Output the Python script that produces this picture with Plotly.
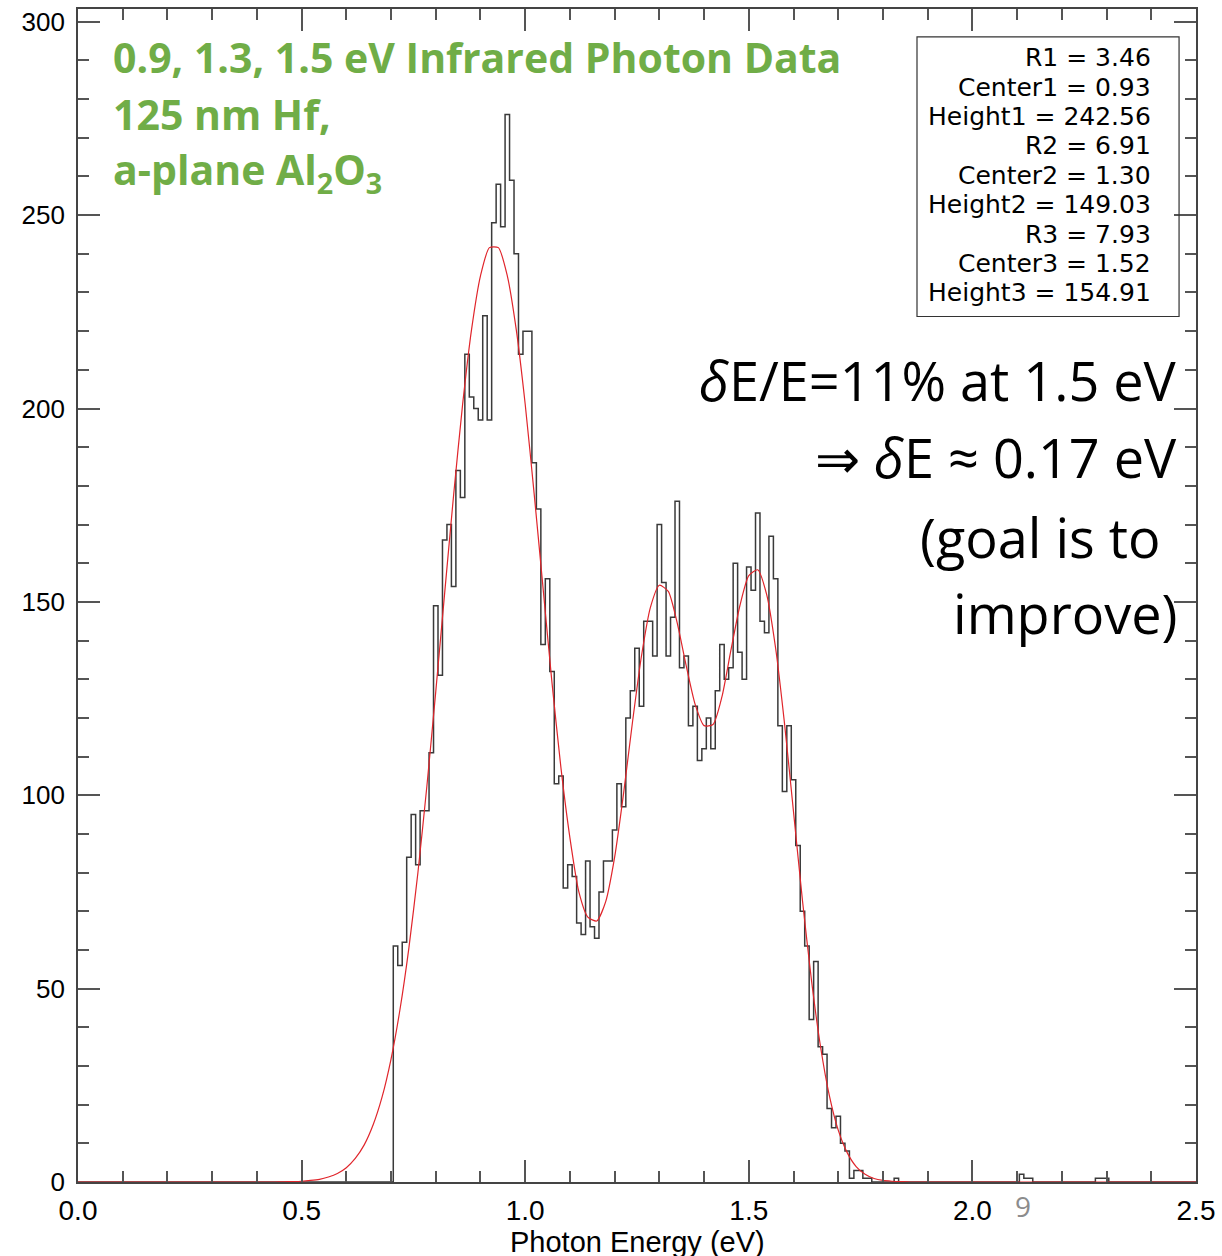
import plotly.graph_objects as go

# ---------------- data ----------------
# histogram: counts per 0.01 eV bin, first bin starts at 0.705 eV
hist_start = 0.705
hist_width = 0.01
hist_counts = [61, 56, 62, 84, 95, 82, 96, 96, 111, 149,
               131, 166, 170, 154, 184, 177, 214, 203, 200, 197,
               224, 197, 248, 258, 247, 276, 259, 240, 214, 220,
               220, 186, 174, 139, 156, 132, 103, 105, 76, 82,
               79, 67, 64, 83, 66, 63, 75, 83, 83, 91,
               103, 97, 120, 127, 138, 123, 145, 145, 136, 170,
               155, 136, 146, 176, 133, 136, 118, 123, 109, 112,
               120, 112, 127, 139, 130, 133, 160, 137, 130, 159,
               153, 173, 145, 142, 167, 156, 118, 101, 118, 104,
               87, 70, 61, 42, 57, 35, 33, 19, 14, 17,
               10, 8, 1, 3, 3, 1, 1]
# isolated counts in the tail (bin start energy, count)
tail_bins = [1.825, 2.105, 2.115, 2.125, 2.275, 2.285, 2.295]
tail_counts = [1, 2, 1, 1, 1, 1, 1]

# three-peak fit curve (red)
fit_e = [0.0, 0.40, 0.44, 0.46, 0.48, 0.50, 0.52, 0.54, 0.56, 0.58, 0.60,
         0.62, 0.64, 0.66, 0.68, 0.70, 0.72, 0.74, 0.76, 0.78, 0.80,
         0.82, 0.84, 0.86, 0.88, 0.90, 0.92, 0.94, 0.96, 0.98, 1.00,
         1.02, 1.04, 1.06, 1.08, 1.10, 1.12, 1.14, 1.16, 1.18, 1.20,
         1.22, 1.24, 1.26, 1.28, 1.30, 1.32, 1.34, 1.36, 1.38, 1.40,
         1.42, 1.44, 1.46, 1.48, 1.50, 1.52, 1.54, 1.56, 1.58, 1.60,
         1.62, 1.64, 1.66, 1.68, 1.70, 1.72, 1.74, 1.76, 1.78, 1.80,
         1.82, 1.84, 1.86, 1.90, 2.5]
fit_v = [0.0, 0.0, 0.0, 0.05, 0.1, 0.2, 0.4, 0.7, 1.3, 2.2, 3.7,
         6.1, 9.6, 14.8, 22.0, 31.8, 44.6, 60.6, 79.9, 102.2, 126.8,
         152.4, 177.7, 201.0, 220.4, 234.3, 241.6, 241.6, 234.3, 220.4, 201.1,
         178.0, 153.5, 129.0, 107.0, 89.0, 75.0, 68.5, 67.5, 72.5, 84.0,
         100.5, 119.0, 136.0, 148.6, 154.3, 152.7, 144.5, 133.5, 123.5, 118.0,
         118.3, 125.5, 137.5, 149.0, 156.8, 158.3, 151.9, 138.0, 118.4, 95.7,
         72.8, 52.3, 35.3, 22.4, 13.4, 7.6, 4.0, 2.0, 0.9, 0.4,
         0.2, 0.1, 0.0, 0.0, 0.0]

fit_labels = ["R1 = 3.46", "Center1 = 0.93", "Height1 = 242.56",
              "R2 = 6.91", "Center2 = 1.30", "Height2 = 149.03",
              "R3 = 7.93", "Center3 = 1.52", "Height3 = 154.91"]

green_lines = ["0.9, 1.3, 1.5 eV Infrared Photon Data",
               "125 nm Hf,",
               "a-plane Al<sub>2</sub>O<sub>3</sub>"]
black_lines = ["<i>δ</i>E/E=11% at 1.5 eV",
               "⇒ <i>δ</i>E ≈ 0.17 eV",
               "(goal is to",
               "improve)"]

# ---------------- build histogram step path ----------------
edges = [0.0]
levels = [0]
pos = hist_start
for c in hist_counts:
    edges.append(pos)
    levels.append(c)
    pos = round(pos + hist_width, 4)
edges.append(pos)
levels.append(0)
for e, c in zip(tail_bins, tail_counts):
    if edges[-1] < e:
        edges.append(e)
        levels.append(c)
    else:
        levels[-1] = c
    edges.append(round(e + hist_width, 4))
    levels.append(0)
edges.append(2.5)
levels.append(0)

# ---------------- geometry helpers (pixel -> paper) ----------------
W, H = 1222, 1256
L, R, T, B = 78, 22, 7, 74
pw, ph = W - L - R, H - T - B


def px(x):
    return (x - L) / pw


def py(y):
    return (H - B - y) / ph


fig = go.Figure()
fig.add_trace(go.Scatter(x=edges, y=levels, mode="lines", line_shape="hv",
                         line=dict(color="#3a3a3a", width=1.5),
                         hoverinfo="skip", showlegend=False))
fig.add_trace(go.Scatter(x=fit_e, y=fit_v, mode="lines", line_shape="spline",
                         line=dict(color="#e0252b", width=1.2, smoothing=0.6),
                         hoverinfo="skip", showlegend=False))

axis_common = dict(showline=True, linecolor="#444", linewidth=1.6,
                   mirror="ticks", ticks="inside", ticklen=22, tickwidth=1.5,
                   tickcolor="#555", showgrid=False, zeroline=False)

fig.update_xaxes(range=[0, 2.5], dtick=0.5, tick0=0, tickformat=".1f",
                 minor=dict(dtick=0.1, ticklen=11, tickwidth=1.5,
                            tickcolor="#555", ticks="inside"),
                 ticklabelstandoff=3,
                 tickfont=dict(family="Liberation Sans, Arial", size=28,
                               color="black"),
                 **axis_common)
fig.update_yaxes(range=[0, 303.3], dtick=50, tick0=0,
                 minor=dict(dtick=10, ticklen=11, tickwidth=1.5,
                            tickcolor="#555", ticks="inside"),
                 ticklabelstandoff=6,
                 tickfont=dict(family="Liberation Sans, Arial", size=26,
                               color="black"),
                 **axis_common)

ann = []
# green title lines
for i, t in enumerate(green_lines):
    ann.append(dict(x=px(111), y=py(55 + 57.5 * i), xref="paper", yref="paper",
                    text=t, showarrow=False, xanchor="left", yanchor="middle",
                    font=dict(family="Open Sans", size=41, color="#70ad47",
                              weight="bold")))
# black note lines
note_y = [379, 456, 536, 612]
note_x = [1183, 1183, 1167, 1183]
for t, yy, xx in zip(black_lines, note_y, note_x):
    ann.append(dict(x=px(xx), y=py(yy), xref="paper", yref="paper",
                    text=t, showarrow=False, xanchor="right", yanchor="middle",
                    font=dict(family="Open Sans", size=54, color="black")))
# fit parameter box text
for i, t in enumerate(fit_labels):
    ann.append(dict(x=px(1157), y=py(56 + 29.4 * i), xref="paper", yref="paper",
                    text=t, showarrow=False, xanchor="right", yanchor="middle",
                    font=dict(family="DejaVu Sans", size=25, color="black")))
# x-axis title
ann.append(dict(x=0.5, y=py(1242), xref="paper", yref="paper",
                text="Photon Energy (eV)", showarrow=False, xanchor="center",
                yanchor="middle",
                font=dict(family="Liberation Sans, Arial", size=29,
                          color="black")))
# slide page number
ann.append(dict(x=px(1026), y=py(1206), xref="paper", yref="paper",
                text="9", showarrow=False, xanchor="center", yanchor="middle",
                font=dict(family="Open Sans", size=28, color="#8c8c8c")))

shapes = [dict(type="rect", xref="paper", yref="paper",
               x0=px(920), x1=px(1183), y0=py(315), y1=py(35),
               line=dict(color="#333", width=1.2), fillcolor="rgba(0,0,0,0)")]

fig.update_layout(width=W, height=H, margin=dict(l=L, r=R, t=T, b=B),
                  paper_bgcolor="white", plot_bgcolor="white",
                  annotations=ann, shapes=shapes, showlegend=False)

fig.write_html("out.html")
